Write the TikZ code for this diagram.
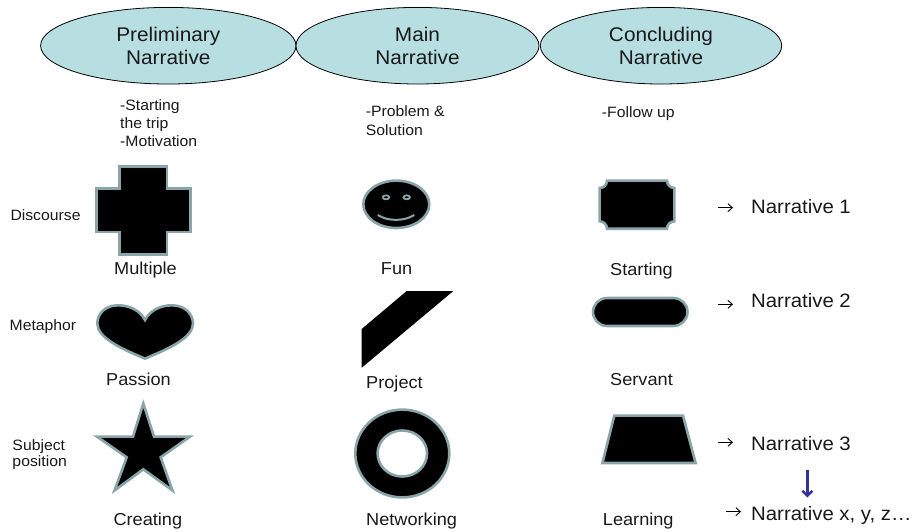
\documentclass[tikz,border=0pt]{standalone}
\usepackage{fontspec}
\setmainfont[FakeStretch=1.05]{Liberation Sans}
\usetikzlibrary{shapes.geometric,arrows.meta}
\definecolor{ellfill}{HTML}{B7DEE1}
\definecolor{shapeline}{HTML}{8AA5A9}
\definecolor{bluearrow}{HTML}{333399}
\tikzset{
  header/.style={ellipse,draw=black,line width=0.8pt,fill=ellfill,inner sep=0pt,align=center,
    font=\fontsize{19.8}{23.3}\selectfont,text=black!90},
  small/.style={anchor=base west,inner sep=0pt,font=\fontsize{15}{18}\selectfont,text=black!90,align=left},
  caption/.style={anchor=base west,inner sep=0pt,font=\fontsize{17.3}{18}\selectfont,text=black!90},
  narr/.style={anchor=base west,inner sep=0pt,font=\fontsize{19.4}{22}\selectfont,text=black!90},
  glyph/.style={fill=black,draw=shapeline,line width=2.6pt,line join=miter},
  thinarrow/.style={-{Straight Barb[length=4.5pt,width=8pt]},line width=0.9pt,black},
}
\begin{document}
\begin{tikzpicture}[x=1pt,y=-1pt]
\useasboundingbox (0,0) rectangle (917,531);
% headers
\node[header,minimum width=255.4pt,minimum height=76.6pt] (h1) at (168.3,45.7) {Preliminary\\Narrative};
\node[header,minimum width=243pt,minimum height=76.6pt] (h2) at (417.5,45.7) {Main\\Narrative};
\node[header,minimum width=241.4pt,minimum height=76.6pt] (h3) at (661,45.7) {Concluding\\Narrative};
% sub texts
\node[small] (s1a) at (120,110) {-Starting};
\node[small] (s1b) at (120,128) {the trip};
\node[small] (s1c) at (120,146) {-Motivation};
\node[small] (s2a) at (365.7,116.7) {-Problem \&};
\node[small] (s2b) at (365.7,135) {Solution};
\node[small] (s3a) at (601.7,117.3) {-Follow up};
% row labels
\node[small] (r1) at (10.3,220) {Discourse};
\node[small] (r2) at (9.5,330) {Metaphor};
\node[small] (r3a) at (12.3,450) {Subject};
\node[small] (r3b) at (12.3,466) {position};
% cross
\draw[glyph] (119.6,166.3) -- (167,166.3) -- (167,188.6) -- (190.7,188.6) -- (190.7,232) -- (167,232) -- (167,254.4) -- (119.6,254.4) -- (119.6,232) -- (96.3,232) -- (96.3,188.6) -- (119.6,188.6) -- cycle;
% smiley
\draw[glyph] (396.3,204.3) ellipse [x radius=33,y radius=23.7];
\draw[shapeline,line width=1.8pt] (386,197.3) ellipse [x radius=3.2,y radius=2];
\draw[shapeline,line width=1.8pt] (406.7,197.3) ellipse [x radius=3.2,y radius=2];
\draw[shapeline,line width=2pt] (377.7,215) .. controls (388,221.5) and (404,221.5) .. (414.3,215);
% plaque
\draw[glyph] (607,180.6) -- (667,180.6) .. controls (667,184.8) and (670.5,188) .. (674.4,188)
  -- (674.4,221.3) .. controls (670.5,221.3) and (667,224.5) .. (667,228.7)
  -- (607,228.7) .. controls (607,224.5) and (603.5,221.3) .. (599.6,221.3)
  -- (599.6,188) .. controls (603.5,188) and (607,184.8) .. (607,180.6) -- cycle;
% heart
\draw[glyph] (145,320) .. controls (150,310) and (161,305.3) .. (172,305.3) .. controls (185,305.3) and (193,314) .. (193,323.5) .. controls (193,338) and (168,349) .. (145,358.6) .. controls (122,349) and (97.3,338) .. (97.3,323.5) .. controls (97.3,314) and (105,305.3) .. (118,305.3) .. controls (129,305.3) and (140,310) .. (145,320) -- cycle;
% project
\fill[black] (361.7,329) -- (406.7,291) -- (453.3,291) -- (361.7,367.7) -- cycle;
% star
\draw[glyph] (143.3,403.5) -- (154,436.6) -- (190,436.6) -- (160.7,457.3) -- (172.5,490.5) -- (143.3,469.3) -- (114.5,490.5) -- (126.7,457.3) -- (97,436.6) -- (133,436.6) -- cycle;
% donut
\draw[glyph,even odd rule] (402.3,453.5) ellipse [x radius=47,y radius=43.9] (402.3,453.5) ellipse [x radius=24.7,y radius=23];
% pill
\draw[glyph] (607,298) -- (673.5,298) arc[start angle=-90,end angle=90,radius=14] -- (607,326) arc[start angle=90,end angle=270,radius=14] -- cycle;
% trapezoid
\draw[glyph] (614.3,415.6) -- (683,415.6) -- (695.6,463) -- (602.4,463) -- cycle;
% captions
\node[caption] (c11) at (114,274.7) {Multiple};
\node[caption] (c12) at (380.7,274.7) {Fun};
\node[caption] (c13) at (610,275) {Starting};
\node[caption] (c21) at (106,385.7) {Passion};
\node[caption] (c22) at (366,388) {Project};
\node[caption] (c23) at (610,385.7) {Servant};
\node[caption] (c31) at (113.3,525.7) {Creating};
\node[caption] (c32) at (366,525.7) {Networking};
\node[caption] (c33) at (602.7,525.7) {Learning};
% narratives
\node[narr] (n1) at (751,213.3) {Narrative 1};
\node[narr] (n2) at (751,307.7) {Narrative 2};
\node[narr] (n3) at (751,450) {Narrative 3};
\node[narr] (nx) at (751,520) {Narrative x, y, z…};
% arrows
\coordinate (a1s) at (718.3,207.7); \coordinate (a1e) at (733,207.7);
\coordinate (a2s) at (718.3,304.3); \coordinate (a2e) at (733,304.3);
\coordinate (a3s) at (718.3,442.3); \coordinate (a3e) at (733,442.3);
\coordinate (axs) at (726,511.7); \coordinate (axe) at (741,511.7);
\coordinate (bs) at (807.3,470); \coordinate (be) at (807.3,497.5);
\draw[thinarrow] (a1s) -- (a1e);
\draw[thinarrow] (a2s) -- (a2e);
\draw[thinarrow] (a3s) -- (a3e);
\draw[thinarrow] (axs) -- (axe);
\draw[bluearrow,line width=2.5pt,-{Straight Barb[length=5pt,width=10pt]}] (bs) -- (be);
\end{tikzpicture}
\end{document}
